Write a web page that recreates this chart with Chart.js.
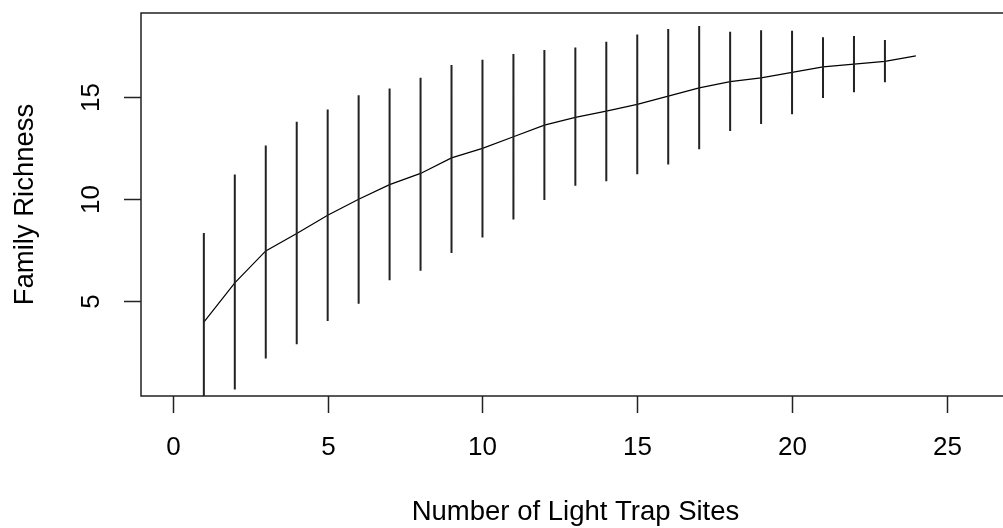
<!DOCTYPE html>
<html><head><meta charset="utf-8">
<script src="https://cdn.jsdelivr.net/npm/chart.js@4.4.1/dist/chart.umd.min.js"></script>
<style>html,body{margin:0;padding:0;background:#fff;overflow:hidden}
#wrap{position:relative;width:1012px;height:528px}</style></head>
<body><div id="wrap"><canvas id="c" width="1012" height="528"></canvas></div>
<script>
const sites = [1,2,3,4,5,6,7,8,9,10,11,12,13,14,15,16,17,18,19,20,21,22,23,24];
const meanRichness = [3.98,5.90,7.47,8.32,9.22,10.00,10.72,11.27,12.03,12.50,13.07,13.64,14.02,14.33,14.66,15.06,15.47,15.77,15.96,16.23,16.50,16.63,16.77,17.04];
const lowerBound = [-0.39,0.67,2.19,2.89,4.03,4.87,6.03,6.49,7.37,8.13,9.01,9.96,10.66,10.89,11.23,11.71,12.46,13.35,13.69,14.17,14.97,15.25,15.74,17.04];
const upperBound = [8.35,11.22,12.64,13.80,14.41,15.10,15.43,15.96,16.59,16.85,17.13,17.32,17.45,17.73,18.09,18.35,18.50,18.22,18.29,18.27,17.95,18.01,17.81,17.04];
const xTicks = [0,5,10,15,20,25];
const yTicks = [5,10,15];
const xTitle = 'Number of Light Trap Sites';
const yTitle = 'Family Richness';

const TICK_FONT = '26px "Liberation Sans", Arial, sans-serif';
const TITLE_FONT = '27.5px "Liberation Sans", Arial, sans-serif';

const errData = [];
sites.forEach((s, i) => {
  errData.push({x: s, y: lowerBound[i]}, {x: s, y: upperBound[i]}, {x: s, y: null});
});
const meanData = sites.map((s, i) => ({x: s, y: meanRichness[i]}));

const rAxes = {
  id: 'rAxes',
  afterDraw(chart) {
    const ctx = chart.ctx;
    const a = chart.chartArea;
    const xs = chart.scales.x, ys = chart.scales.y;
    ctx.save();
    ctx.strokeStyle = '#222';
    ctx.lineWidth = 1.5;
    ctx.strokeRect(a.left, a.top, a.right - a.left, a.bottom - a.top);
    ctx.fillStyle = '#000';
    ctx.font = TICK_FONT;
    ctx.textAlign = 'center';
    ctx.textBaseline = 'middle';
    const tl = 17;
    xTicks.forEach(v => {
      const px = Math.round(xs.getPixelForValue(v)) + 0.5;
      ctx.beginPath();
      ctx.moveTo(px, a.bottom);
      ctx.lineTo(px, a.bottom + tl);
      ctx.stroke();
      ctx.fillText(String(v), px, 448);
    });
    yTicks.forEach(v => {
      const py = Math.round(ys.getPixelForValue(v)) + 0.5;
      ctx.beginPath();
      ctx.moveTo(a.left - tl, py);
      ctx.lineTo(a.left, py);
      ctx.stroke();
      ctx.save();
      ctx.translate(92, py);
      ctx.rotate(-Math.PI / 2);
      ctx.fillText(String(v), 0, 0);
      ctx.restore();
    });
    ctx.font = TITLE_FONT;
    ctx.fillText(xTitle, (a.left + a.right) / 2, 512);
    ctx.save();
    ctx.translate(25, (a.top + a.bottom) / 2);
    ctx.rotate(-Math.PI / 2);
    ctx.fillText(yTitle, 0, 0);
    ctx.restore();
    ctx.restore();
  }
};

new Chart(document.getElementById('c'), {
  type: 'line',
  data: {
    datasets: [
      {data: errData, borderColor: '#222', borderWidth: 2, pointRadius: 0, spanGaps: false, tension: 0, borderCapStyle: 'butt'},
      {data: meanData, borderColor: '#000', borderWidth: 1.2, pointRadius: 0, tension: 0}
    ]
  },
  options: {
    responsive: false,
    animation: false,
    events: [],
    layout: {padding: {left: 141, top: 13, right: 2, bottom: 132}},
    plugins: {legend: {display: false}, tooltip: {enabled: false}, title: {display: false}},
    scales: {
      x: {type: 'linear', min: -1.03, max: 27.04, display: false},
      y: {type: 'linear', min: 0.35, max: 19.14, display: false}
    }
  },
  plugins: [rAxes]
});
</script></body></html>
